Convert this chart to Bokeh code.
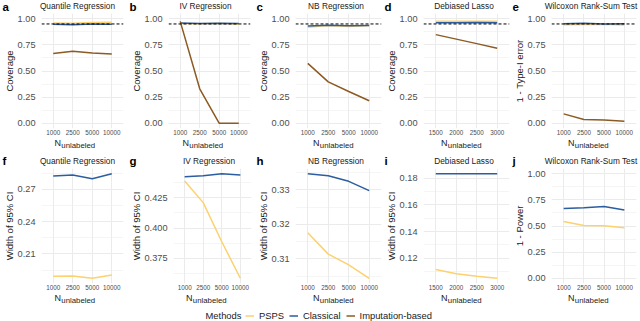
from bokeh.plotting import figure
from bokeh.models import (Range1d, FixedTicker, NumeralTickFormatter, Span, Label,
                          Legend, LegendItem)
from bokeh.layouts import row, column
from bokeh.embed import file_html
from bokeh.resources import INLINE

# ---------------- data ----------------
N_CATS = ["1000", "2500", "5000", "10000"]
N_CATS_LASSO = ["1500", "2000", "2500", "3000"]
METHODS = ["PSPS", "Classical", "Imputation-based"]
COLORS = ["#FCD16E", "#2B5D9F", "#8C5A22"]
NOMINAL = 0.95

# coverage (row 1)
cov_quantile_psps = [0.960, 0.957, 0.965, 0.966]
cov_quantile_classical = [0.948, 0.942, 0.950, 0.946]
cov_quantile_imputation = [0.668, 0.690, 0.672, 0.662]

cov_iv_psps = [0.955, 0.952, 0.956, 0.946]
cov_iv_classical = [0.958, 0.955, 0.957, 0.955]
cov_iv_imputation = [0.975, 0.330, 0.000, 0.000]

cov_nb_psps = [0.918, 0.935, 0.925, 0.935]
cov_nb_classical = [0.930, 0.938, 0.932, 0.936]
cov_nb_imputation = [0.573, 0.396, 0.304, 0.215]

cov_lasso_psps = [0.975, 0.976, 0.976, 0.977]
cov_lasso_classical = [0.962, 0.962, 0.963, 0.962]
cov_lasso_imputation = [0.848, 0.805, 0.762, 0.718]

typeI_wilcox_psps = [0.942, 0.944, 0.948, 0.940]
typeI_wilcox_classical = [0.952, 0.956, 0.950, 0.952]
typeI_wilcox_imputation = [0.090, 0.037, 0.032, 0.020]

# width of 95% CI / power (row 2)
wid_quantile_psps = [0.1893, 0.1895, 0.1875, 0.1906]
wid_quantile_classical = [0.2823, 0.2832, 0.2798, 0.2844]

wid_iv_psps = [0.4387, 0.4209, 0.3887, 0.3586]
wid_iv_classical = [0.4422, 0.4430, 0.4447, 0.4436]

wid_nb_psps = [0.3176, 0.3114, 0.3083, 0.3044]
wid_nb_classical = [0.3347, 0.3341, 0.3325, 0.3298]

wid_lasso_psps = [0.1116, 0.1084, 0.1066, 0.1051]
wid_lasso_classical = [0.1832, 0.1832, 0.1832, 0.1831]

power_wilcox_psps = [0.543, 0.505, 0.502, 0.483]
power_wilcox_classical = [0.668, 0.674, 0.687, 0.653]

# axis ticks
TICKS_UNIT = [0.0, 0.25, 0.5, 0.75, 1.0]
MINOR_UNIT = [0.125, 0.375, 0.625, 0.875]
TICKS_F = [0.21, 0.24, 0.27]
MINOR_F = [0.195, 0.225, 0.255, 0.285]
TICKS_G = [0.375, 0.400, 0.425]
MINOR_G = [0.3625, 0.3875, 0.4125, 0.4375]
TICKS_H = [0.31, 0.32, 0.33]
MINOR_H = [0.305, 0.315, 0.325, 0.335]
TICKS_I = [0.12, 0.14, 0.16, 0.18]
MINOR_I = [0.11, 0.13, 0.15, 0.17]

TITLES = ["Quantile Regression", "IV Regression", "NB Regression",
          "Debiased Lasso", "Wilcoxon Rank-Sum Test"]
X_TITLE_MAIN = "N"
X_TITLE_SUB = "unlabeled"
LEGEND_TITLE = "Methods"

panels_top = [
    dict(letter="a", title=TITLES[0], cats=N_CATS, ylabel="Coverage",
         series=[cov_quantile_psps, cov_quantile_classical, cov_quantile_imputation],
         ticks=TICKS_UNIT, minor=MINOR_UNIT, fmt="0.00", fixed=(0, 1), hline=True),
    dict(letter="b", title=TITLES[1], cats=N_CATS, ylabel="Coverage",
         series=[cov_iv_psps, cov_iv_classical, cov_iv_imputation],
         ticks=TICKS_UNIT, minor=MINOR_UNIT, fmt="0.00", fixed=(0, 1), hline=True),
    dict(letter="c", title=TITLES[2], cats=N_CATS, ylabel="Coverage",
         series=[cov_nb_psps, cov_nb_classical, cov_nb_imputation],
         ticks=TICKS_UNIT, minor=MINOR_UNIT, fmt="0.00", fixed=(0, 1), hline=True),
    dict(letter="d", title=TITLES[3], cats=N_CATS_LASSO, ylabel="Coverage",
         series=[cov_lasso_psps, cov_lasso_classical, cov_lasso_imputation],
         ticks=TICKS_UNIT, minor=MINOR_UNIT, fmt="0.00", fixed=(0, 1), hline=True),
    dict(letter="e", title=TITLES[4], cats=N_CATS, ylabel="1 - Type-I error",
         series=[typeI_wilcox_psps, typeI_wilcox_classical, typeI_wilcox_imputation],
         ticks=TICKS_UNIT, minor=MINOR_UNIT, fmt="0.00", fixed=(0, 1), hline=True),
]
panels_bottom = [
    dict(letter="f", title=TITLES[0], cats=N_CATS, ylabel="Width of 95% CI",
         series=[wid_quantile_psps, wid_quantile_classical],
         ticks=TICKS_F, minor=MINOR_F, fmt="0.00", fixed=None, hline=False),
    dict(letter="g", title=TITLES[1], cats=N_CATS, ylabel="Width of 95% CI",
         series=[wid_iv_psps, wid_iv_classical],
         ticks=TICKS_G, minor=MINOR_G, fmt="0.000", fixed=None, hline=False),
    dict(letter="h", title=TITLES[2], cats=N_CATS, ylabel="Width of 95% CI",
         series=[wid_nb_psps, wid_nb_classical],
         ticks=TICKS_H, minor=MINOR_H, fmt="0.00", fixed=None, hline=False),
    dict(letter="i", title=TITLES[3], cats=N_CATS_LASSO, ylabel="Width of 95% CI",
         series=[wid_lasso_psps, wid_lasso_classical],
         ticks=TICKS_I, minor=MINOR_I, fmt="0.00", fixed=None, hline=False),
    dict(letter="j", title=TITLES[4], cats=N_CATS, ylabel="1 - Power",
         series=[power_wilcox_psps, power_wilcox_classical],
         ticks=TICKS_UNIT, minor=MINOR_UNIT, fmt="0.00", fixed=(0, 1), hline=False),
]

# ---------------- layout / style ----------------
FONT = "Liberation Sans"
TXT = "#1A1A1A"
TICK_TXT = "#4D4D4D"
GRID = "#EBEBEB"

# (width, min_border_left, min_border_right)
GEOM_TOP = [(127, 31, 4), (127, 33, 4), (128, 36, 1), (128, 36, 1), (130, 35, 4)]
GEOM_BOT = [(127, 31, 4), (127, 39, 3), (128, 36, 1), (128, 36, 1), (130, 35, 4)]
# vertical centres (text_baseline="middle") measured from the top of each strip
ROW_TOP = dict(head=13, letter_mid=6.5, title_mid=5.6, frame=115, bottom=9,
               foot=13, n_mid=5.2, sub_mid=8.2)
ROW_BOT = dict(head=18, letter_mid=10.6, title_mid=10.0, frame=115, bottom=9,
               foot=13, n_mid=5.6, sub_mid=8.3)


def yrange(spec):
    if spec["fixed"] is not None:
        lo, hi = spec["fixed"]
    else:
        vals = [v for s in spec["series"] for v in s]
        lo, hi = min(vals), max(vals)
    pad = 0.05 * (hi - lo)
    return lo - pad, hi + pad


def blank_fig(width, height):
    f = figure(width=width, height=height, output_backend="svg", toolbar_location=None,
               title=None, x_range=Range1d(0, width), y_range=Range1d(height, 0),
               x_axis_type=None, y_axis_type=None, frame_align=False,
               min_border_left=0, min_border_right=0, min_border_top=0, min_border_bottom=0)
    f.outline_line_color = None
    f.background_fill_color = "white"
    f.border_fill_color = "white"
    f.xgrid.visible = False
    f.ygrid.visible = False
    return f


def make_panel(spec, geom, R):
    width, mbl, mbr = geom
    fw = width - mbl - mbr
    cx = mbl + fw / 2
    cats = spec["cats"]
    xs = list(range(len(cats)))
    y0, y1 = yrange(spec)

    # header: panel letter + title
    head = blank_fig(width, R["head"])
    head.add_layout(Label(x=2, y=R["letter_mid"], text=spec["letter"], text_font=FONT,
                          text_font_size="11.5px", text_font_style="bold", text_color="black",
                          text_baseline="middle", text_align="left"))
    head.add_layout(Label(x=cx, y=R["title_mid"], text=spec["title"], text_font=FONT,
                          text_font_size="8.3px", text_color=TXT,
                          text_baseline="middle", text_align="center"))

    # plot
    p = figure(width=width, height=R["frame"] + R["bottom"], output_backend="svg",
               toolbar_location=None, title=None, frame_align=False,
               x_range=Range1d(-0.6, len(cats) - 1 + 0.6), y_range=Range1d(y0, y1),
               min_border_left=mbl, min_border_right=mbr,
               min_border_top=0, min_border_bottom=R["bottom"])
    p.outline_line_color = None
    p.background_fill_color = "white"
    p.border_fill_color = "white"

    xa = p.xaxis[0]
    xa.ticker = FixedTicker(ticks=xs)
    xa.major_label_overrides = {i: c for i, c in enumerate(cats)}
    xa.axis_line_color = None
    xa.major_tick_line_color = None
    xa.minor_tick_line_color = None
    xa.major_tick_out = 0
    xa.major_label_standoff = 1
    xa.major_label_text_font = FONT
    xa.major_label_text_font_size = "6.3px"
    xa.major_label_text_color = TICK_TXT

    ya = p.yaxis[0]
    ya.ticker = FixedTicker(ticks=spec["ticks"], minor_ticks=spec["minor"])
    ya.formatter = NumeralTickFormatter(format=spec["fmt"])
    ya.axis_line_color = None
    ya.major_tick_line_color = None
    ya.minor_tick_line_color = None
    ya.major_tick_out = 0
    ya.major_label_standoff = 2
    ya.major_label_text_font = FONT
    ya.major_label_text_font_size = "9.2px"
    ya.major_label_text_color = TICK_TXT
    ya.axis_label = spec["ylabel"]
    ya.axis_label_text_font = FONT
    ya.axis_label_text_font_size = "9.5px"
    ya.axis_label_text_font_style = "normal"
    ya.axis_label_text_color = TXT
    ya.axis_label_standoff = 0

    p.xgrid.grid_line_color = GRID
    p.xgrid.grid_line_width = 1
    p.ygrid.grid_line_color = GRID
    p.ygrid.grid_line_width = 1
    p.ygrid.minor_grid_line_color = GRID
    p.ygrid.minor_grid_line_width = 0.5

    for vals, col in zip(spec["series"], COLORS):
        p.line(xs, vals, line_color=col, line_width=1.5)

    if spec["hline"]:
        p.add_layout(Span(location=NOMINAL, dimension="width", line_color="black",
                          line_width=1, line_dash="3 2"))

    # footer: x-axis title N_unlabeled
    foot = blank_fig(width, R["foot"])
    split = cx - 16.5
    foot.add_layout(Label(x=split, y=R["n_mid"], text=X_TITLE_MAIN, text_font=FONT,
                          text_font_size="9px", text_color=TXT,
                          text_baseline="middle", text_align="right"))
    foot.add_layout(Label(x=split + 0.3, y=R["sub_mid"], text=X_TITLE_SUB, text_font=FONT,
                          text_font_size="7.8px", text_color=TXT,
                          text_baseline="middle", text_align="left"))
    return column(head, p, foot)


top = [make_panel(s, g, ROW_TOP) for s, g in zip(panels_top, GEOM_TOP)]
bot = [make_panel(s, g, ROW_BOT) for s, g in zip(panels_bottom, GEOM_BOT)]

# legend strip
leg = figure(width=640, height=16, output_backend="svg", toolbar_location=None, title=None,
             x_range=Range1d(0, 1), y_range=Range1d(0, 1), frame_align=False,
             x_axis_type=None, y_axis_type=None,
             min_border_left=0, min_border_right=0, min_border_top=0, min_border_bottom=0)
leg.outline_line_color = None
leg.xgrid.visible = False
leg.ygrid.visible = False
items = []
for name, col in zip(METHODS, COLORS):
    r = leg.line(x=[-1], y=[-1], line_color=col, line_width=1.5)
    items.append(LegendItem(label=name, renderers=[r], index=0))
legend = Legend(items=items, location=(245, 0.5), orientation="horizontal",
                glyph_width=9, glyph_height=11, label_height=11, label_width=10,
                label_standoff=5, spacing=5, padding=0, margin=0,
                label_text_font=FONT, label_text_font_size="9.4px", label_text_color=TXT,
                background_fill_alpha=0, border_line_alpha=0)
leg.add_layout(legend)
leg.add_layout(Label(x=205, y=6, x_units="screen", y_units="screen", text=LEGEND_TITLE,
                     text_font=FONT, text_font_size="9.4px", text_color=TXT,
                     text_baseline="middle", text_align="left"))

layout = column(row(*top), row(*bot), leg)
open("out.html", "w").write(file_html(layout, INLINE))
